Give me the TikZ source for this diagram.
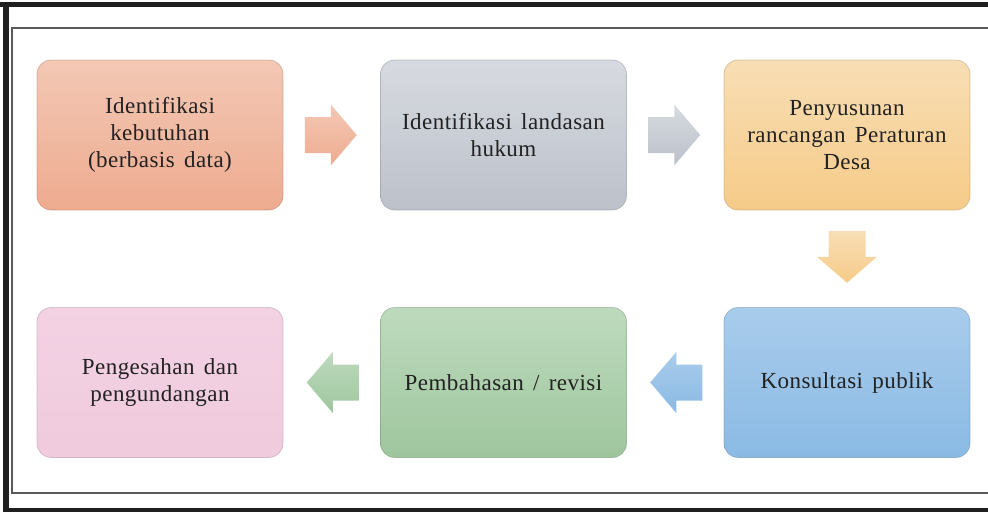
\documentclass[tikz,border=0pt]{standalone}
\usepackage{fontspec}
\setmainfont[WordSpace=1.5,LetterSpace=2]{Liberation Serif}
\usetikzlibrary{calc}
\definecolor{pchT}{HTML}{F3C8B5}\definecolor{pchB}{HTML}{EEAB8F}
\definecolor{gryT}{HTML}{D7DAE0}\definecolor{gryB}{HTML}{BCC1CA}
\definecolor{ylwT}{HTML}{F8DEB5}\definecolor{ylwB}{HTML}{F6CB88}
\definecolor{bluT}{HTML}{A9CCEC}\definecolor{bluB}{HTML}{8ABAE4}
\definecolor{grnT}{HTML}{BEDABE}\definecolor{grnB}{HTML}{9EC69D}
\definecolor{pnkT}{HTML}{F3D2E4}\definecolor{pnkB}{HTML}{F0CADD}
\definecolor{txt}{HTML}{222222}
\tikzset{
  stepbox/.style={rounded corners=14pt, minimum width=246pt, minimum height=150pt,
    inner sep=0pt, align=center, text=txt, line width=0.7pt, draw opacity=0.45,
    font=\fontsize{23}{27}\selectfont},
  frameline/.style={draw=black!65, line width=1.3pt},
}
\begin{document}
\begin{tikzpicture}[x=1pt,y=-1pt]
\useasboundingbox (0,0) rectangle (988,512);
% frame
\fill[black!88] (0,2) rectangle (988,7);
\fill[black!88] (3,2) rectangle (9,512);
\fill[black!88] (3,508) rectangle (988,512);
\draw[frameline] (988,28) -- (12,28) -- (12,493) -- (988,493);
% boxes
\node[stepbox, top color=pchT, bottom color=pchB, draw=pchB!70!black] (n1) at (160,135)
  {Identifikasi\\kebutuhan\\(berbasis data)};
\node[stepbox, top color=gryT, bottom color=gryB, draw=gryB!70!black] (n2) at (503.5,135)
  {Identifikasi landasan\\hukum};
\node[stepbox, top color=ylwT, bottom color=ylwB, draw=ylwB!70!black] (n3) at (847,135)
  {Penyusunan\\rancangan Peraturan\\Desa};
\node[stepbox, top color=bluT, bottom color=bluB, draw=bluB!70!black] (n4) at (847,382.5)
  {Konsultasi publik};
\node[stepbox, top color=grnT, bottom color=grnB, draw=grnB!70!black] (n5) at (503.5,382.5)
  {Pembahasan / revisi};
\node[stepbox, top color=pnkT, bottom color=pnkB, draw=pnkB!70!black] (n6) at (160,382.5)
  {Pengesahan dan\\pengundangan};
% block arrows
\coordinate (a12) at ($(n1.east)!0.5!(n2.west)$);
\coordinate (a23) at ($(n2.east)!0.5!(n3.west)$);
\coordinate (a34) at ($(n3.south)!0.5!(n4.north)$);
\coordinate (a45) at ($(n5.east)!0.5!(n4.west)$);
\coordinate (a56) at ($(n6.east)!0.5!(n5.west)$);
\shade[top color=pchT, bottom color=pchB]
  ($(a12)+(-27,-18)$) -- ($(a12)+(-1,-18)$) -- ($(a12)+(-1,-30.5)$) -- ($(a12)+(25,0)$)
  -- ($(a12)+(-1,30.5)$) -- ($(a12)+(-1,18)$) -- ($(a12)+(-27,18)$) -- cycle;
\shade[top color=gryT, bottom color=gryB]
  ($(a23)+(-27,-18)$) -- ($(a23)+(-1,-18)$) -- ($(a23)+(-1,-30.5)$) -- ($(a23)+(25,0)$)
  -- ($(a23)+(-1,30.5)$) -- ($(a23)+(-1,18)$) -- ($(a23)+(-27,18)$) -- cycle;
\shade[top color=ylwT, bottom color=ylwB]
  ($(a34)+(-18.5,-28)$) -- ($(a34)+(18.5,-28)$) -- ($(a34)+(18.5,-2)$) -- ($(a34)+(30,-2)$)
  -- ($(a34)+(0,24)$) -- ($(a34)+(-30,-2)$) -- ($(a34)+(-18.5,-2)$) -- cycle;
\shade[top color=bluT, bottom color=bluB]
  ($(a45)+(27,-18)$) -- ($(a45)+(1,-18)$) -- ($(a45)+(1,-30.5)$) -- ($(a45)+(-25,0)$)
  -- ($(a45)+(1,30.5)$) -- ($(a45)+(1,18)$) -- ($(a45)+(27,18)$) -- cycle;
\shade[top color=grnT, bottom color=grnB]
  ($(a56)+(27,-18)$) -- ($(a56)+(1,-18)$) -- ($(a56)+(1,-30.5)$) -- ($(a56)+(-25,0)$)
  -- ($(a56)+(1,30.5)$) -- ($(a56)+(1,18)$) -- ($(a56)+(27,18)$) -- cycle;
\end{tikzpicture}
\end{document}
